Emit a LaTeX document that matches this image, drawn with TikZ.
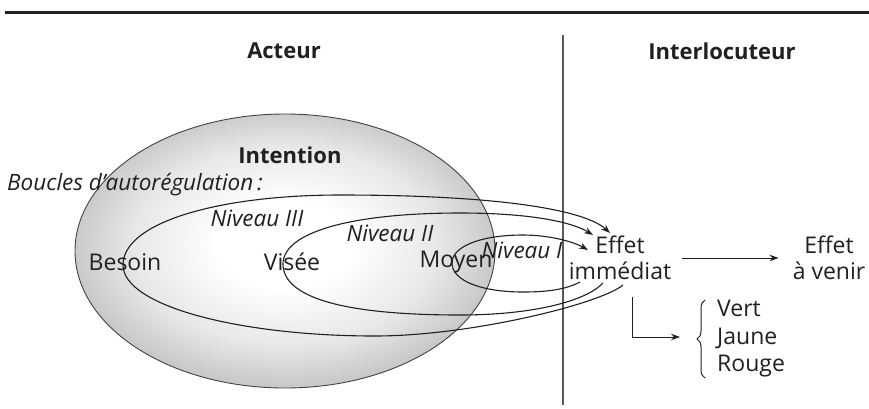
\documentclass[tikz,border=0pt]{standalone}
\usepackage{fontspec}
\setmainfont{Open Sans}
\usetikzlibrary{arrows.meta,decorations.pathreplacing}
\definecolor{ink}{HTML}{231F20}
% soft grey rim, white core
\pgfdeclareradialshading{field}{\pgfpoint{0bp}{1.5bp}}{%
  color(0bp)=(white); color(8bp)=(white); color(18bp)=(black!9);
  color(25bp)=(black!21); color(50bp)=(black!21)}
\begin{document}
\begin{tikzpicture}[x=1pt,y=-1pt,
  txt/.style={text=ink,font=\fontsize{23}{26}\selectfont,inner sep=0pt},
  head/.style={text=ink,font=\fontsize{22}{26}\selectfont\bfseries,inner sep=0pt},
  lvl/.style={text=ink,font=\fontsize{22.5}{26}\selectfont\itshape,inner sep=0pt},
  tip/.style={-{Stealth[length=9pt,width=6.5pt]}},
  loopline/.style={draw=ink,line width=1.1pt,tip},
  link/.style={draw=ink,line width=1pt,tip}]
\useasboundingbox (0,0) rectangle (869,408);

% header rule and the actor / interlocutor divider
\coordinate (rulel) at (5,12.5);
\coordinate (ruler) at (869,12.5);
\draw[ink,line width=3pt] (rulel) -- (ruler);
\coordinate (divtop) at (563,35);
\coordinate (divbot) at (563,405);
\draw[black!65,line width=1.7pt] (divtop) -- (divbot);

% the intention field
\shadedraw[shading=field,draw=ink!85,line width=0.9pt]
  (285,251) ellipse [x radius=210,y radius=137];

% column headings and labels
\node[head] (acteur) at (284,51) {Acteur};
\node[head] (inter) at (722,51) {Interlocuteur};
\node[head] (intention) at (290,155) {Intention};
\node[lvl,anchor=west] (boucles) at (7,185) {Boucles d’autorégulation\,:};
\node[txt] (besoin) at (125,262) {Besoin};
\node[txt] (visee) at (292,262) {Visée};
\node[txt] (moyen) at (456,262) {Moyen};
\node[lvl] (n3) at (257,218) {Niveau III};
\node[lvl] (n2) at (390,233) {Niveau II};
\node[lvl] (n1) at (522,250) {Niveau I};
\node[txt,align=center] (effim) at (620,258) {Effet\\immédiat};
\node[txt,align=center] (effav) at (829,258) {Effet\\à venir};
\node[txt,align=left,anchor=west,font=\fontsize{23}{27.5}\selectfont] (feux) at (717,339) {Vert\\Jaune\\Rouge};

% self-regulation loops
\coordinate (s3) at (623,285);
\coordinate (e3) at (610,233);
\coordinate (s2) at (603,283);
\coordinate (e2) at (593,235);
\coordinate (s1) at (580,282);
\coordinate (e1) at (588,250);
\draw[loopline] (s3) .. controls (600,304) and (470,336) .. (375,336)
  .. controls (240,336) and (123,306) .. (123,265)
  .. controls (123,222) and (220,195) .. (340,195)
  .. controls (500,195) and (585,210) .. (e3);
\draw[loopline] (s2) .. controls (585,302) and (530,315) .. (460,315)
  .. controls (345,315) and (283,298) .. (283,264)
  .. controls (283,232) and (352,213) .. (460,213)
  .. controls (530,213) and (572,222) .. (e2);
\draw[loopline] (s1) .. controls (565,290) and (545,292) .. (523,292)
  .. controls (482,292) and (452,281) .. (452,263)
  .. controls (452,246) and (482,235) .. (523,235)
  .. controls (550,235) and (574,242) .. (e1);

% effects
\draw[link,shorten <=11pt,shorten >=14pt] (effim.east) -- (effav.west);
\coordinate (elbowtop) at (632,297);
\coordinate (elbowend) at (680,337);
\draw[link] (elbowtop) |- (elbowend);
\coordinate (bbot) at (705,378);
\coordinate (btop) at (705,300);
\draw[ink,line width=1pt,decorate,decoration={brace,amplitude=8pt}] (bbot) -- (btop);
\end{tikzpicture}
\end{document}
